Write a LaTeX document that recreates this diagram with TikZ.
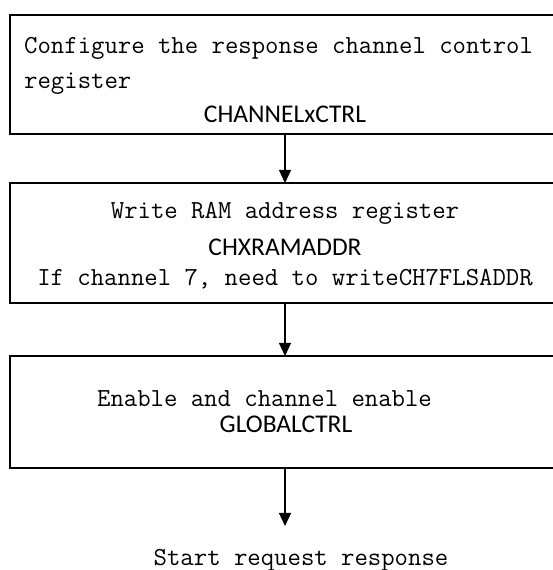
\documentclass[tikz,border=0pt]{standalone}
\usepackage{fontspec}
\usepackage{tikz}
\usetikzlibrary{arrows.meta}
\newfontfamily\calib{Carlito}

\begin{document}
\begin{tikzpicture}[x=1pt,y=1pt,>={Triangle[width=12pt,length=13pt]},
  box/.style={draw,line width=1.2pt,minimum width=550pt,inner sep=0pt,outer sep=0pt},
  mono/.style={inner sep=0pt,font=\ttfamily\fontsize{26}{30}\selectfont},
  sans/.style={inner sep=0pt,font=\calib\fontsize{25.5}{30}\selectfont},
  flow/.style={line width=1.2pt,->}]

  \useasboundingbox (0,0) rectangle (552,570);

  \node[box,minimum height=119pt] (cfg) at (285,495.5) {};
  \node[box,minimum height=120pt] (ram) at (285,327) {};
  \node[box,minimum height=112pt] (glob) at (285,158) {};
  \coordinate (start) at (285,44);

  \node[mono,anchor=base west] (cfgA) at (24,516) {Configure the response channel control};
  \node[mono,anchor=base west] (cfgB) at (24,481) {register};
  \node[sans,anchor=base] (cfgR) at (285,447) {CHANNELxCTRL};

  \node[mono,anchor=base] (ramA) at (285,351) {Write RAM address register};
  \node[sans,anchor=base] (ramR) at (285,314) {CHXRAMADDR};
  \node[mono,anchor=base] (ramB) at (285,284) {If channel 7, need to writeCH7FLSADDR};

  \node[mono,anchor=base] (globA) at (264.5,163) {Enable and channel enable};
  \node[sans,anchor=base] (globR) at (286,137) {GLOBALCTRL};

  \node[mono,anchor=base] (done) at (301,5) {Start request response};

  \draw[flow] (cfg) -- (ram);
  \draw[flow] (ram) -- (glob);
  \draw[flow] (glob) -- (start);
\end{tikzpicture}
\end{document}
